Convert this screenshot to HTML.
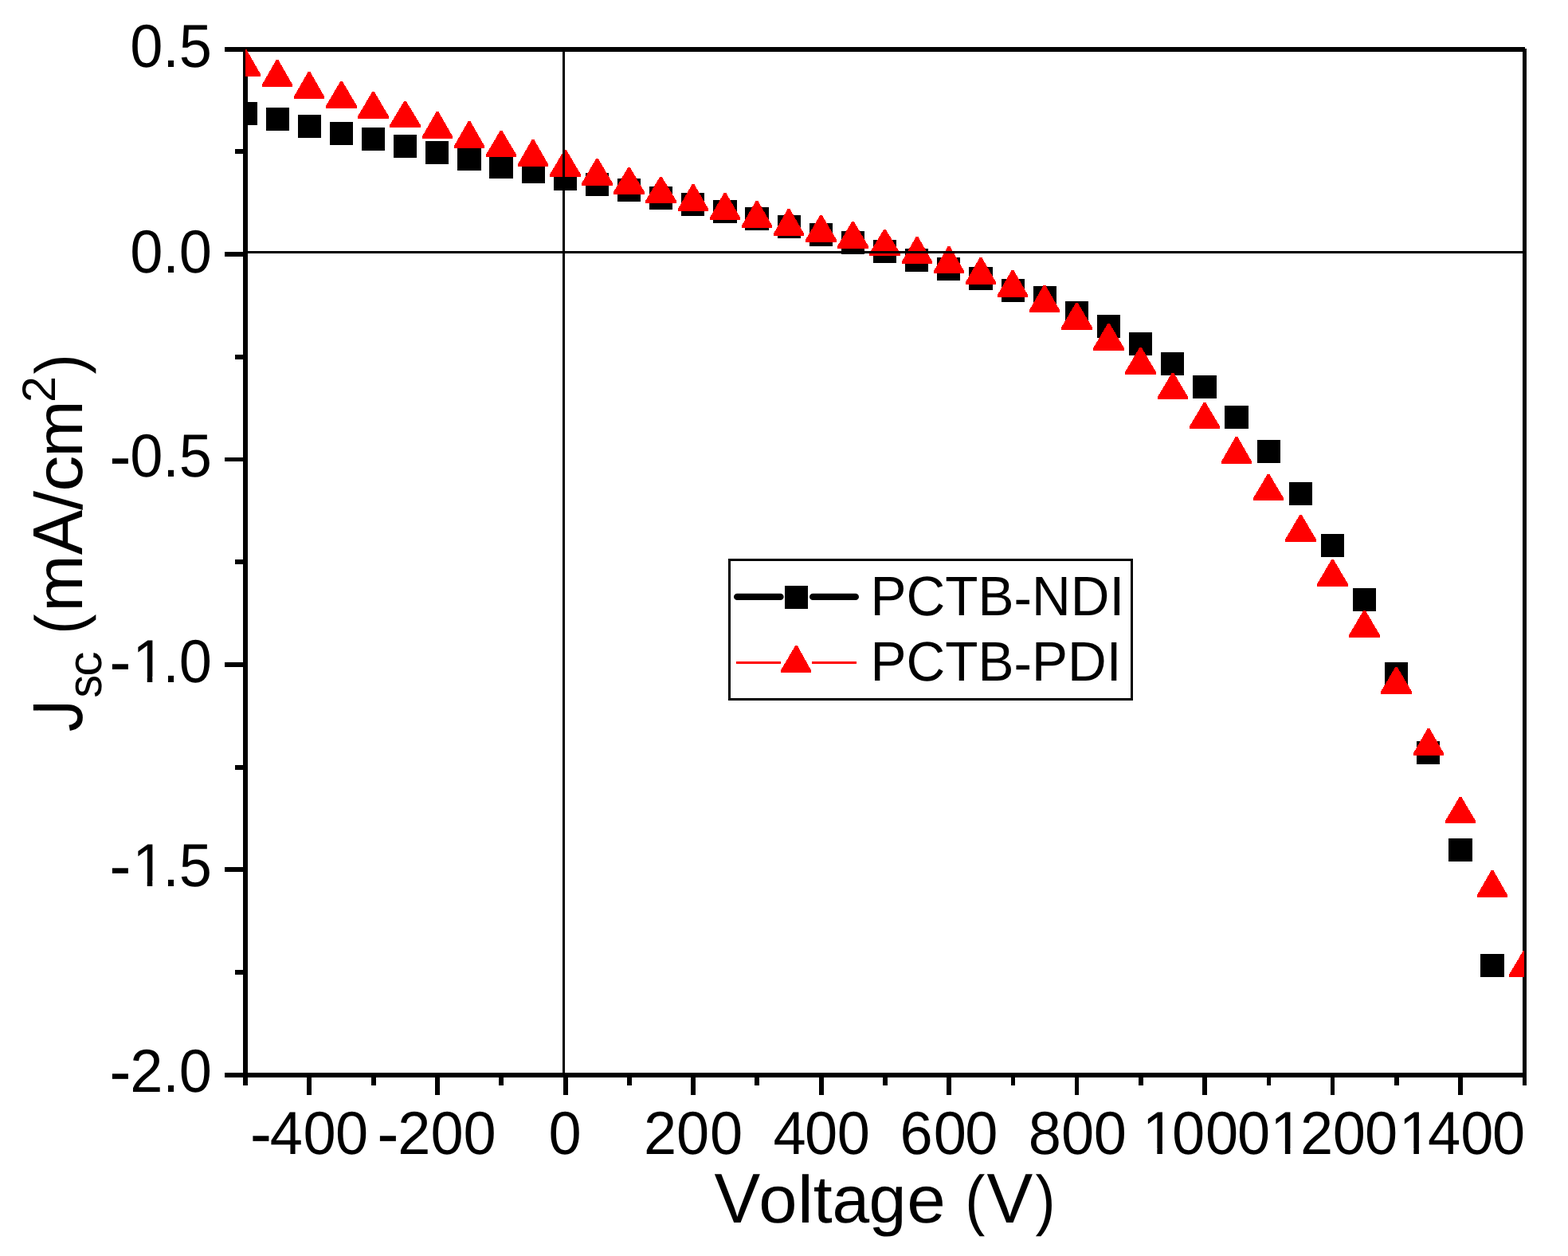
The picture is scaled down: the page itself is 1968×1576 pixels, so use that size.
<!DOCTYPE html>
<html lang="en"><head><meta charset="utf-8"><title>J-V curve</title>
<style>html,body{margin:0;padding:0;background:#fff;overflow:hidden}svg{display:block}text{font-family:'Liberation Sans', Arial, sans-serif;fill:#000;font-kerning:none;font-variant-ligatures:none;text-rendering:geometricPrecision}</style>
</head><body>
<svg width="1968" height="1576" viewBox="0 0 1968 1576">
<rect width="1968" height="1576" fill="#fff"/>
<defs><clipPath id="plot"><rect x="308" y="62" width="1605" height="1287"/></clipPath></defs>
<g fill="#000" shape-rendering="crispEdges">
<rect x="305" y="59" width="1609" height="6"/>
<rect x="305" y="1346" width="1611" height="6"/>
<rect x="305" y="59" width="6" height="1303"/>
<rect x="1911" y="61" width="5" height="1301"/>
<rect x="282" y="59" width="24" height="6"/>
<rect x="282" y="316" width="24" height="6"/>
<rect x="282" y="574" width="24" height="5"/>
<rect x="282" y="831" width="24" height="6"/>
<rect x="282" y="1088" width="24" height="6"/>
<rect x="282" y="1346" width="24" height="6"/>
<rect x="295" y="187" width="11" height="6"/>
<rect x="295" y="445" width="11" height="6"/>
<rect x="295" y="702" width="11" height="6"/>
<rect x="295" y="960" width="11" height="6"/>
<rect x="295" y="1217" width="11" height="6"/>
<rect x="385" y="1349" width="6" height="25"/>
<rect x="466" y="1349" width="6" height="13"/>
<rect x="546" y="1349" width="6" height="25"/>
<rect x="626" y="1349" width="6" height="13"/>
<rect x="707" y="1349" width="6" height="25"/>
<rect x="787" y="1349" width="6" height="13"/>
<rect x="867" y="1349" width="6" height="25"/>
<rect x="947" y="1349" width="6" height="13"/>
<rect x="1028" y="1349" width="6" height="25"/>
<rect x="1108" y="1349" width="6" height="13"/>
<rect x="1188" y="1349" width="6" height="25"/>
<rect x="1269" y="1349" width="5" height="13"/>
<rect x="1349" y="1349" width="5" height="25"/>
<rect x="1429" y="1349" width="6" height="13"/>
<rect x="1509" y="1349" width="6" height="25"/>
<rect x="1590" y="1349" width="5" height="13"/>
<rect x="1670" y="1349" width="5" height="25"/>
<rect x="1750" y="1349" width="6" height="13"/>
<rect x="1830" y="1349" width="6" height="25"/>
</g>
<g clip-path="url(#plot)" shape-rendering="crispEdges">
<g fill="#000">
<rect x="293" y="128" width="30" height="29"/>
<rect x="334" y="135" width="29" height="29"/>
<rect x="374" y="144" width="29" height="29"/>
<rect x="414" y="153" width="29" height="29"/>
<rect x="454" y="160" width="29" height="29"/>
<rect x="494" y="169" width="29" height="29"/>
<rect x="534" y="177" width="29" height="29"/>
<rect x="574" y="185" width="30" height="29"/>
<rect x="614" y="195" width="30" height="29"/>
<rect x="655" y="201" width="29" height="29"/>
<rect x="695" y="210" width="29" height="29"/>
<rect x="735" y="217" width="29" height="29"/>
<rect x="775" y="224" width="29" height="29"/>
<rect x="815" y="234" width="29" height="29"/>
<rect x="855" y="242" width="29" height="29"/>
<rect x="895" y="251" width="30" height="29"/>
<rect x="935" y="260" width="30" height="29"/>
<rect x="976" y="270" width="29" height="29"/>
<rect x="1016" y="280" width="29" height="29"/>
<rect x="1056" y="290" width="29" height="29"/>
<rect x="1096" y="301" width="29" height="29"/>
<rect x="1136" y="312" width="29" height="29"/>
<rect x="1176" y="323" width="29" height="29"/>
<rect x="1216" y="335" width="30" height="29"/>
<rect x="1257" y="350" width="29" height="29"/>
<rect x="1297" y="359" width="29" height="29"/>
<rect x="1337" y="378" width="29" height="29"/>
<rect x="1377" y="395" width="29" height="29"/>
<rect x="1417" y="417" width="29" height="29"/>
<rect x="1457" y="442" width="29" height="29"/>
<rect x="1497" y="471" width="30" height="29"/>
<rect x="1537" y="509" width="30" height="29"/>
<rect x="1578" y="552" width="29" height="29"/>
<rect x="1618" y="605" width="29" height="29"/>
<rect x="1658" y="670" width="29" height="29"/>
<rect x="1698" y="738" width="29" height="29"/>
<rect x="1738" y="831" width="29" height="29"/>
<rect x="1778" y="930" width="29" height="29"/>
<rect x="1818" y="1052" width="30" height="29"/>
<rect x="1858" y="1197" width="30" height="29"/>
</g><g fill="#f00">
<polygon points="289,96 289,93 306.5,62.4 309.5,62.4 327,93 327,96"/>
<polygon points="329,109 329,106 346.5,75.4 349.5,75.4 367,106 367,109"/>
<polygon points="369,124 369,121 386.5,90.4 389.5,90.4 407,121 407,124"/>
<polygon points="409,136 409,133 427.0,102.4 430.0,102.4 448,133 448,136"/>
<polygon points="449,149 449,146 467.0,115.4 470.0,115.4 488,146 488,149"/>
<polygon points="489,160 489,157 507.0,127.4 510.0,127.4 528,157 528,160"/>
<polygon points="530,174 530,171 547.5,140.4 550.5,140.4 568,171 568,174"/>
<polygon points="570,186 570,183 587.5,152.4 590.5,152.4 608,183 608,186"/>
<polygon points="610,197 610,194 627.5,164.4 630.5,164.4 648,194 648,197"/>
<polygon points="650,209 650,206 667.5,175.4 670.5,175.4 688,206 688,209"/>
<polygon points="690,222 690,219 708.0,188.4 711.0,188.4 729,219 729,222"/>
<polygon points="730,233 730,230 748.0,199.4 751.0,199.4 769,230 769,233"/>
<polygon points="770,244 770,241 788.0,210.4 791.0,210.4 809,241 809,244"/>
<polygon points="810,255 810,252 828.0,222.4 831.0,222.4 849,252 849,255"/>
<polygon points="851,265 851,262 868.5,231.4 871.5,231.4 889,262 889,265"/>
<polygon points="891,276 891,273 908.5,242.4 911.5,242.4 929,273 929,276"/>
<polygon points="931,286 931,283 948.5,252.4 951.5,252.4 969,283 969,286"/>
<polygon points="971,296 971,293 988.5,262.4 991.5,262.4 1009,293 1009,296"/>
<polygon points="1011,304 1011,301 1029.0,270.4 1032.0,270.4 1050,301 1050,304"/>
<polygon points="1051,312 1051,309 1069.0,278.4 1072.0,278.4 1090,309 1090,312"/>
<polygon points="1091,321 1091,318 1109.0,288.4 1112.0,288.4 1130,318 1130,321"/>
<polygon points="1132,331 1132,328 1149.5,297.4 1152.5,297.4 1170,328 1170,331"/>
<polygon points="1172,343 1172,340 1189.5,309.4 1192.5,309.4 1210,340 1210,343"/>
<polygon points="1212,357 1212,354 1229.5,323.4 1232.5,323.4 1250,354 1250,357"/>
<polygon points="1252,373 1252,370 1269.5,339.4 1272.5,339.4 1290,370 1290,373"/>
<polygon points="1292,392 1292,389 1309.5,358.4 1312.5,358.4 1330,389 1330,392"/>
<polygon points="1332,414 1332,411 1350.0,380.4 1353.0,380.4 1371,411 1371,414"/>
<polygon points="1372,440 1372,437 1390.0,406.4 1393.0,406.4 1411,437 1411,440"/>
<polygon points="1412,470 1412,467 1430.0,436.4 1433.0,436.4 1451,467 1451,470"/>
<polygon points="1453,501 1453,498 1470.5,468.4 1473.5,468.4 1491,498 1491,501"/>
<polygon points="1493,538 1493,535 1510.5,505.4 1513.5,505.4 1531,535 1531,538"/>
<polygon points="1533,582 1533,579 1550.5,548.4 1553.5,548.4 1571,579 1571,582"/>
<polygon points="1573,628 1573,625 1590.5,595.4 1593.5,595.4 1611,625 1611,628"/>
<polygon points="1613,680 1613,677 1631.0,646.4 1634.0,646.4 1652,677 1652,680"/>
<polygon points="1653,736 1653,733 1671.0,702.4 1674.0,702.4 1692,733 1692,736"/>
<polygon points="1693,800 1693,797 1711.0,766.4 1714.0,766.4 1732,797 1732,800"/>
<polygon points="1733,871 1733,868 1751.0,837.4 1754.0,837.4 1772,868 1772,871"/>
<polygon points="1774,948 1774,945 1791.5,914.4 1794.5,914.4 1812,945 1812,948"/>
<polygon points="1814,1033 1814,1030 1831.5,1000.4 1834.5,1000.4 1852,1030 1852,1033"/>
<polygon points="1854,1126 1854,1123 1871.5,1092.4 1874.5,1092.4 1892,1123 1892,1126"/>
<polygon points="1894,1226 1894,1223 1911.5,1193.4 1914.5,1193.4 1932,1223 1932,1226"/>
</g></g>
<g fill="#000" shape-rendering="crispEdges">
<rect x="308" y="315" width="1605" height="3"/>
<rect x="706" y="62" width="3" height="1287"/>
</g>
<g font-size="74">
<text transform="translate(314.10,1448.0) scale(1,1.03)"><tspan font-size="82" dx="-0.33" dy="3.33">-</tspan><tspan dx="-2.33" dy="-3.33">4</tspan><tspan dx="0.60" dy="0.00">0</tspan><tspan dx="-0.60" dy="0.00">0</tspan></text>
<text transform="translate(474.60,1448.0) scale(1,1.03)"><tspan font-size="82" dx="-1.33" dy="3.33">-</tspan><tspan dx="-1.33" dy="-3.33">2</tspan>00</text>
<text transform="translate(688.57,1448.0) scale(1,1.03)">0</text>
<text transform="translate(807.92,1448.0) scale(1,1.03)">20<tspan dx="0.80" dy="0.00">0</tspan></text>
<text transform="translate(968.42,1448.0) scale(1,1.03)"><tspan dx="2.00" dy="0.00">4</tspan><tspan dx="-1.50" dy="0.00">0</tspan><tspan dx="-0.50" dy="0.00">0</tspan></text>
<text transform="translate(1128.92,1448.0) scale(1,1.03)"><tspan dx="0.50" dy="0.00">6</tspan><tspan dx="1.30" dy="0.00">0</tspan><tspan dx="-1.80" dy="0.00">0</tspan></text>
<text transform="translate(1289.42,1448.0) scale(1,1.03)"><tspan dx="1.30" dy="0.00">8</tspan><tspan dx="0.20" dy="0.00">0</tspan><tspan dx="-0.50" dy="0.00">0</tspan></text>
<text transform="translate(1429.94,1448.0) scale(1,1.03)"><tspan dx="3.8">1</tspan><tspan dx="-3.80" dy="0.00">0</tspan><tspan dx="0.80" dy="0.00">0</tspan><tspan dx="-1.30" dy="0.00">0</tspan></text>
<text transform="translate(1590.44,1448.0) scale(1,1.03)"><tspan dx="3.8">1</tspan><tspan dx="-3.30" dy="0.00">2</tspan><tspan dx="-0.50" dy="0.00">0</tspan><tspan dx="-0.80" dy="0.00">0</tspan></text>
<text transform="translate(1750.94,1448.0) scale(1,1.03)"><tspan dx="4.8">1</tspan><tspan dx="-4.80" dy="0.00">4</tspan>0<tspan dx="-1.30" dy="0.00">0</tspan></text>
<text transform="translate(163.13,84.0) scale(1,1.03)">0.5</text>
<text transform="translate(163.13,342.0) scale(1,1.03)">0.0</text>
<text transform="translate(138.49,598.0) scale(1,1.03)"><tspan font-size="82" dx="-1.33" dy="3.33">-</tspan><tspan dx="-1.33" dy="-3.33">0</tspan>.5</text>
<text transform="translate(138.49,856.0) scale(1,1.03)"><tspan font-size="82" dx="-1.33" dy="3.33">-</tspan><tspan dx="1.66797" dy="-3.33465">1</tspan><tspan dx="-3.00" dy="0.00">.</tspan>0</text>
<text transform="translate(138.49,1112.0) scale(1,1.03)"><tspan font-size="82" dx="-1.33" dy="3.33">-</tspan><tspan dx="1.66797" dy="-3.33465">1</tspan><tspan dx="-3.00" dy="0.00">.</tspan>5</text>
<text transform="translate(138.49,1370.0) scale(1,1.03)"><tspan font-size="82" dx="-1.33" dy="3.33">-</tspan><tspan dx="-1.33" dy="-3.33">2</tspan>.0</text>
</g>
<text font-size="85"><tspan x="896.62" y="1533.75" font-size="88.30" textLength="57.76" lengthAdjust="spacingAndGlyphs">V</tspan><tspan x="952.35" y="1534.18" font-size="83.96" textLength="48.29" lengthAdjust="spacingAndGlyphs">o</tspan><tspan x="1000.87" y="1533.75" font-size="83.84" textLength="20.22" lengthAdjust="spacingAndGlyphs">l</tspan><tspan x="1020.70" y="1533.75" font-size="83.96" textLength="23.93" lengthAdjust="spacingAndGlyphs">t</tspan><tspan x="1044.43" y="1534.18" font-size="83.96" textLength="46.70" lengthAdjust="spacingAndGlyphs">a</tspan><tspan x="1090.45" y="1534.36" font-size="84.53" textLength="46.99" lengthAdjust="spacingAndGlyphs">g</tspan><tspan x="1138.29" y="1534.18" font-size="83.96" textLength="48.59" lengthAdjust="spacingAndGlyphs">e</tspan><tspan x="1190" y="1533.75" font-size="85"> </tspan><tspan x="1211.32" y="1533.67" font-size="83.72" textLength="25.12" lengthAdjust="spacingAndGlyphs">(</tspan><tspan x="1238.62" y="1533.75" font-size="88.30" textLength="57.76" lengthAdjust="spacingAndGlyphs">V</tspan><tspan x="1299.56" y="1533.67" font-size="83.72" textLength="25.12" lengthAdjust="spacingAndGlyphs">)</tspan></text>
<text transform="rotate(-90)" font-size="85"><tspan x="-918.26" y="103.13" font-size="88.86" textLength="40.23" lengthAdjust="spacingAndGlyphs">J</tspan><tspan x="-875.60" y="127.41" font-size="60.40" textLength="28.67" lengthAdjust="spacingAndGlyphs">s</tspan><tspan x="-848.66" y="127.41" font-size="60.24" textLength="31.31" lengthAdjust="spacingAndGlyphs">c</tspan><tspan x="-800" y="103" font-size="85"> </tspan><tspan x="-795.68" y="102.67" font-size="83.72" textLength="25.12" lengthAdjust="spacingAndGlyphs">(</tspan><tspan x="-767.69" y="103.00" font-size="83.63" textLength="71.33" lengthAdjust="spacingAndGlyphs">m</tspan><tspan x="-696.16" y="103.00" font-size="88.66" textLength="56.33" lengthAdjust="spacingAndGlyphs">A</tspan><tspan x="-640.00" y="103.18" font-size="84.43" textLength="24.00" lengthAdjust="spacingAndGlyphs">/</tspan><tspan x="-616.84" y="103.18" font-size="83.96" textLength="45.23" lengthAdjust="spacingAndGlyphs">c</tspan><tspan x="-573.69" y="103.00" font-size="83.63" textLength="71.33" lengthAdjust="spacingAndGlyphs">m</tspan><tspan x="-504.98" y="69.00" font-size="58.72" textLength="32.96" lengthAdjust="spacingAndGlyphs">2</tspan><tspan x="-469.44" y="102.67" font-size="83.72" textLength="25.12" lengthAdjust="spacingAndGlyphs">)</tspan></text>
<rect x="915.5" y="702.5" width="505" height="175" fill="#fff" stroke="#000" stroke-width="3" shape-rendering="crispEdges"/>
<g stroke="#000" stroke-width="8.4" stroke-linecap="round"><line x1="925.2" y1="748.9" x2="979.5" y2="748.9"/><line x1="1020.2" y1="748.9" x2="1073.8" y2="748.9"/></g>
<rect x="985" y="735" width="29" height="29" fill="#000" shape-rendering="crispEdges"/>
<g fill="#f00" shape-rendering="crispEdges"><rect x="924" y="830" width="56" height="3"/><rect x="1019" y="830" width="56" height="3"/>
<polygon points="980,844 980,841 998,810.4 1001,810.4 1018,841 1018,844"/></g>
<text transform="translate(1092.4,772) scale(1,1.034)" font-size="67.5">PCTB<tspan dy="1.5">-</tspan><tspan dy="-1.5">NDI</tspan></text>
<text transform="translate(1092.4,854) scale(1,1.034)" font-size="67.5">PCTB<tspan dy="1.5">-</tspan><tspan dy="-1.5">PDI</tspan></text>
<g fill="#fff">
<rect x="1437.88" y="1441.11" width="14.47" height="8.39"/>
<rect x="1458.89" y="1441.11" width="13.89" height="8.39"/>
<rect x="1598.38" y="1441.11" width="14.47" height="8.39"/>
<rect x="1619.39" y="1441.11" width="13.89" height="8.39"/>
<rect x="1759.88" y="1441.11" width="14.47" height="8.39"/>
<rect x="1780.89" y="1441.11" width="13.89" height="8.39"/>
<rect x="170.27" y="849.11" width="14.47" height="8.39"/>
<rect x="191.28" y="849.11" width="13.89" height="8.39"/>
<rect x="170.27" y="1105.11" width="14.47" height="8.39"/>
<rect x="191.28" y="1105.11" width="13.89" height="8.39"/>
<rect x="40" y="891.46" width="9.6" height="12"/>
</g>
</svg>
</body></html>
